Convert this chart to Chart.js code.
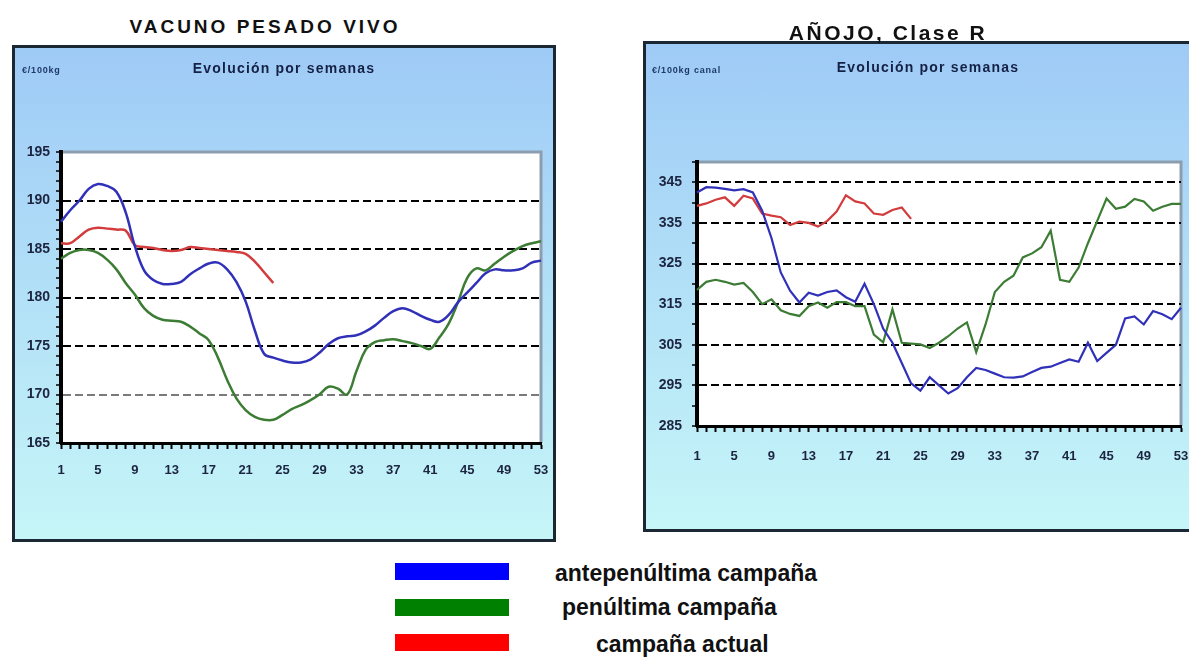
<!DOCTYPE html>
<html lang="es">
<head>
<meta charset="utf-8">
<title>Vacuno pesado vivo / Añojo clase R</title>
<script src="https://cdn.jsdelivr.net/npm/chart.js@4.4.1/dist/chart.umd.min.js"></script>
<style>
  body { margin: 0; background: #fff; font-family: Arial, "Liberation Sans", sans-serif; }
  #page { position: relative; width: 1189px; height: 657px; overflow: hidden; }
  .title { position: absolute; font-weight: bold; color: #111; white-space: nowrap; text-align: center; z-index: 2; }
  .panel { position: absolute; box-sizing: border-box; border: 3px solid #1b2833; background: linear-gradient(#9ecaf6, #c6f6f8); }
  .panel canvas { position: absolute; left: 0; top: 0; }
  .unit { position: absolute; font-weight: bold; font-size: 9px; line-height: 10px; color: #1f3a6a; letter-spacing: 0.8px; white-space: nowrap; }
  .sub { position: absolute; font-weight: bold; font-size: 14px; line-height: 16px; color: #152045; letter-spacing: 1.2px; white-space: nowrap; text-align: center; }
  .key { position: absolute; left: 395px; width: 114px; height: 17px; }
  .keytext { position: absolute; font-weight: bold; font-size: 23px; line-height: 23px; color: #111; white-space: nowrap; }
</style>
</head>
<body>
<div id="page">
  <div class="title" style="left:0;width:530px;top:17px;font-size:19px;line-height:20px;letter-spacing:3px;">VACUNO PESADO VIVO</div>
  <div class="panel" style="left:12px;top:45px;width:544px;height:497px;">
    <canvas id="vacunoChart" width="538" height="491"></canvas>
    <div class="unit" style="left:7px;top:17px;">€/100kg</div>
    <div class="sub" style="left:0;width:538px;top:12px;">Evolución por semanas</div>
  </div>

  <div class="title" style="left:688px;width:400px;top:22px;font-size:21px;line-height:21px;letter-spacing:2.5px;">AÑOJO, Clase R</div>
  <div class="panel" style="left:643px;top:41px;width:549px;height:491px;">
    <canvas id="anojoChart" width="543" height="485"></canvas>
    <div class="unit" style="left:6px;top:21px;">€/100kg canal</div>
    <div class="sub" style="left:82px;width:400px;top:15px;">Evolución por semanas</div>
  </div>

  <div class="key" style="top:563px;background:#0000ff;"></div>
  <div class="key" style="top:599px;background:#008000;"></div>
  <div class="key" style="top:634px;background:#ff0000;"></div>
  <div class="keytext" style="left:555px;top:562px;">antepenúltima campaña</div>
  <div class="keytext" style="left:562px;top:596px;">penúltima campaña</div>
  <div class="keytext" style="left:596px;top:633px;">campaña actual</div>
</div>

<script>
// semanas de campaña
const weeks = [
  1, 2, 3, 4, 5, 6, 7, 8, 9, 10, 11, 12, 13, 14, 15, 16, 17, 18, 19, 20,
  21, 22, 23, 24, 25, 26, 27, 28, 29, 30, 31, 32, 33, 34, 35, 36, 37, 38,
  39, 40, 41, 42, 43, 44, 45, 46, 47, 48, 49, 50, 51, 52, 53,
];
const weekTicks = [1, 5, 9, 13, 17, 21, 25, 29, 33, 37, 41, 45, 49, 53];

// VACUNO PESADO VIVO
const vacunoTicks = [165, 170, 175, 180, 185, 190, 195];
const vacunoAnte = [
  187.8, 189.0, 190.0, 191.2, 191.7, 191.5, 190.9, 188.8, 185.3, 182.8,
  181.8, 181.4, 181.4, 181.6, 182.4, 183.0, 183.5, 183.6, 182.9, 181.6,
  179.6, 176.6, 174.2, 173.8, 173.5, 173.3, 173.3, 173.6, 174.3, 175.2,
  175.8, 176.0, 176.1, 176.5, 177.1, 177.9, 178.6, 178.9, 178.6, 178.1,
  177.7, 177.5, 178.2, 179.5, 180.5, 181.5, 182.5, 182.9, 182.8, 182.8,
  183.0, 183.6, 183.8,
];
const vacunoPen = [
  184.0, 184.6, 184.9, 184.9, 184.6, 183.9, 182.9, 181.5, 180.3, 178.9,
  178.1, 177.7, 177.6, 177.5, 177.0, 176.3, 175.6, 173.8, 171.5, 169.6,
  168.4, 167.7, 167.4, 167.4, 167.9, 168.5, 168.9, 169.4, 170.0, 170.8,
  170.6, 170.0, 172.4, 174.6, 175.4, 175.6, 175.7, 175.5, 175.3, 175.0,
  174.7, 175.9, 177.3, 179.5, 182.0, 183.0, 182.8, 183.5, 184.2, 184.8,
  185.3, 185.6, 185.8,
];
const vacunoActual = [
  185.6, 185.6, 186.3, 187.0, 187.2, 187.1, 187.0, 186.9, 185.4, 185.2,
  185.1, 184.9, 184.8, 184.9, 185.2, 185.1, 185.0, 184.9, 184.8, 184.7,
  184.5, 183.7, 182.6, 181.5,
];

// AÑOJO, Clase R
const anojoTicks = [285, 295, 305, 315, 325, 335, 345];
const anojoAnte = [
  342.5, 343.8, 343.7, 343.4, 343.0, 343.3, 342.5, 338.0, 331.3, 322.8,
  318.3, 315.4, 317.8, 317.1, 318.0, 318.4, 316.7, 315.6, 320.0, 315.0,
  309.0, 305.5, 300.5, 295.5, 293.7, 297.0, 295.0, 293.0, 294.3, 297.0,
  299.3, 298.8, 297.9, 297.0, 296.9, 297.2, 298.3, 299.3, 299.6, 300.5,
  301.4, 300.8, 305.5, 301.0, 303.0, 305.0, 311.5, 312.0, 310.0, 313.3,
  312.5, 311.3, 314.1,
];
const anojoPen = [
  318.5, 320.5, 321.0, 320.5, 319.8, 320.2, 318.0, 315.0, 316.2, 313.5,
  312.6, 312.1, 314.5, 315.4, 314.1, 315.5, 315.5, 314.5, 314.5, 307.5,
  305.6, 313.7, 305.5, 305.3, 305.1, 304.2, 305.5, 307.1, 309.0, 310.5,
  303.2, 310.0, 318.0, 320.5, 322.0, 326.5, 327.5, 329.0, 333.1, 321.0,
  320.5, 324.0, 330.0, 335.5, 341.0, 338.5, 339.0, 340.9, 340.3, 338.0,
  339.0, 339.7, 339.7,
];
const anojoActual = [
  339.2, 339.8, 340.7, 341.3, 339.2, 341.7, 341.0, 337.3, 336.8, 336.4,
  334.5, 335.3, 335.0, 334.1, 335.5, 337.8, 341.8, 340.3, 339.8, 337.3,
  337.0, 338.2, 338.8, 336.0,
];

const BLUE = "#3030b8";
const GREEN = "#3c7c34";
const RED = "#d23c3c";
const TICK_TEXT = "#1c2440";

// fondo blanco del area de trazado y marco gris arriba/derecha
const plotFrame = {
  id: "plotFrame",
  beforeDraw(chart) {
    const { ctx, chartArea: a } = chart;
    ctx.save();
    ctx.fillStyle = "#ffffff";
    ctx.fillRect(a.left, a.top, a.right - a.left, a.bottom - a.top);
    ctx.strokeStyle = "#8d9db0";
    ctx.lineWidth = 3;
    ctx.beginPath();
    ctx.moveTo(a.left, a.top);
    ctx.lineTo(a.right, a.top);
    ctx.lineTo(a.right, a.bottom);
    ctx.stroke();
    ctx.restore();
  },
};

function series(ante, pen, actual, tension) {
  return [
    { label: "antepenúltima campaña", data: ante, borderColor: BLUE, tension: tension },
    { label: "penúltima campaña", data: pen, borderColor: GREEN, tension: tension },
    { label: "campaña actual", data: actual, borderColor: RED, tension: tension },
  ];
}

function axisOptions(cfg) {
  return {
    x: {
      grid: { drawOnChartArea: false, tickLength: 6, tickWidth: 2, tickColor: "#000" },
      border: { color: "#000", width: 3 },
      ticks: {
        autoSkip: false,
        maxRotation: 0,
        padding: cfg.xPad,
        color: TICK_TEXT,
        font: { family: "Arial", size: 13, weight: "bold" },
        callback: (value, index) => (weekTicks.includes(weeks[index]) ? weeks[index] : ""),
      },
      afterFit(scale) {
        scale.height = cfg.xHeight;
        // no reservar sitio extra para la ultima etiqueta
        scale.paddingLeft = 0;
        scale.paddingRight = 0;
      },
    },
    y: {
      min: cfg.min,
      max: cfg.max,
      grid: {
        lineWidth: 2,
        tickLength: 5,
        tickWidth: 1.5,
        tickColor: "#000",
        color: (c) => {
          const v = c.tick ? c.tick.value : null;
          if (v === cfg.greyLine) return "#7a7a7a";
          if (cfg.ticks.includes(v) && v !== cfg.min && v < cfg.max - 1) return "#000";
          return "rgba(0,0,0,0)";
        },
      },
      border: { color: "#000", width: 4, dash: [8, 4] },
      ticks: {
        stepSize: cfg.step,
        autoSkip: false,
        padding: cfg.yPad,
        color: TICK_TEXT,
        font: { family: "Arial", size: 14, weight: "bold" },
        callback: (v) => (cfg.ticks.includes(v) ? v : ""),
      },
      afterFit(scale) {
        scale.width = cfg.yWidth;
      },
    },
  };
}

const ctxVacuno = document.getElementById("vacunoChart").getContext("2d");
const vacunoChart = new Chart(ctxVacuno, {
  type: "line",
  data: { labels: weeks, datasets: series(vacunoAnte, vacunoPen, vacunoActual, 0.4) },
  options: {
    responsive: false,
    animation: false,
    layout: { padding: { top: 104, right: 12, bottom: 0, left: 0 } },
    elements: { point: { radius: 0 }, line: { borderWidth: 2.5 } },
    plugins: { legend: { display: false }, tooltip: { enabled: false }, title: { display: false } },
    scales: axisOptions({
      min: 165, max: 195, step: 1, ticks: vacunoTicks, greyLine: 170,
      xHeight: 96, yWidth: 46, xPad: 14, yPad: 6,
    }),
  },
  plugins: [plotFrame],
});

const ctxAnojo = document.getElementById("anojoChart").getContext("2d");
const anojoChart = new Chart(ctxAnojo, {
  type: "line",
  data: { labels: weeks, datasets: series(anojoAnte, anojoPen, anojoActual, 0) },
  options: {
    responsive: false,
    animation: false,
    layout: { padding: { top: 118, right: 8, bottom: 0, left: 0 } },
    elements: { point: { radius: 0 }, line: { borderWidth: 2.2 } },
    plugins: { legend: { display: false }, tooltip: { enabled: false }, title: { display: false } },
    scales: axisOptions({
      min: 285, max: 350, step: 5, ticks: anojoTicks, greyLine: null,
      xHeight: 103, yWidth: 51, xPad: 17, yPad: 10,
    }),
  },
  plugins: [plotFrame],
});
</script>
</body>
</html>
